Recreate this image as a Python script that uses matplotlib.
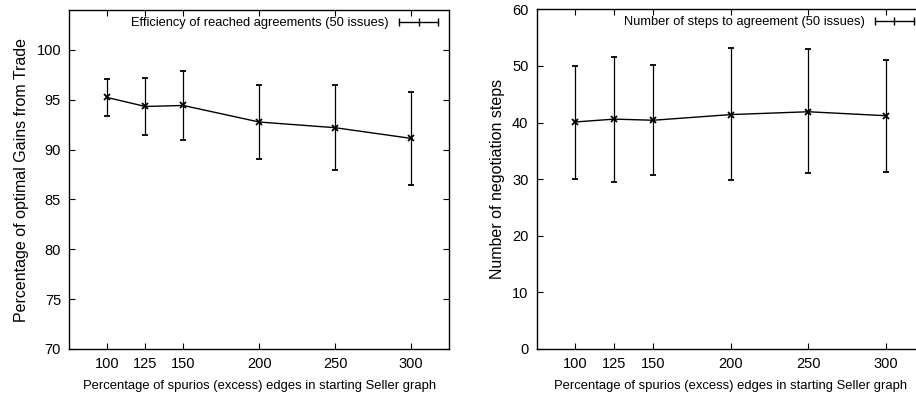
import numpy as np
import matplotlib
matplotlib.use('Agg')
import matplotlib.pyplot as plt
from matplotlib.lines import Line2D

plt.rcParams['font.family'] = ['Liberation Sans', 'DejaVu Sans']

# x positions (percentage of spurious edges)
x_vals = [100, 125, 150, 200, 250, 300]

# efficiency of reached agreements (mean, lower, upper)
eff_mean = [95.23, 94.33, 94.43, 92.77, 92.2, 91.13]
eff_low = [93.33, 91.43, 90.93, 89.03, 87.93, 86.43]
eff_high = [97.1, 97.2, 97.93, 96.47, 96.47, 95.8]

# number of steps to agreement (mean, lower, upper)
steps_mean = [40.1, 40.6, 40.4, 41.4, 41.9, 41.2]
steps_low = [30.0, 29.5, 30.7, 29.8, 31.0, 31.2]
steps_high = [50.06, 51.6, 50.2, 53.1, 52.9, 51.1]

xlabel = 'Percentage of spurios (excess) edges in starting Seller graph'


def panel(ax, mean, low, high, label, ylabel, ylim, yticks):
    mean = np.array(mean)
    yerr = np.vstack([mean - np.array(low), np.array(high) - mean])
    ax.errorbar(x_vals, mean, yerr=yerr, color='black', lw=1.0, elinewidth=0.9,
                capsize=2, capthick=0.9, marker='x', ms=4.5, mew=1.3)
    ax.set_xlim(75, 325)
    ax.set_ylim(*ylim)
    ax.set_xticks(x_vals)
    ax.set_yticks(yticks)
    ax.tick_params(direction='in', top=True, right=True, length=4,
                   labelsize=10.5, pad=6)
    ax.set_xlabel(xlabel, fontsize=9.4, labelpad=6)
    ax.set_ylabel(ylabel, fontsize=11.5, labelpad=5)
    for s in ax.spines.values():
        s.set_linewidth(1.0)
    # gnuplot-like key: horizontal line with end ticks
    handle = Line2D([], [], color='black', lw=1.0, marker='|', ms=6, mew=1.0)
    ax.legend([handle], [label], loc='upper right', frameon=False,
              markerfirst=False, fontsize=9.3, handlelength=3.6, numpoints=3,
              borderaxespad=0.15, handletextpad=0.5)


fig = plt.figure(figsize=(9.16, 4.03), dpi=100)
ax1 = fig.add_axes([0.0757, 0.134, 0.4145, 0.841])
ax2 = fig.add_axes([0.5859, 0.134, 0.4237, 0.843])

panel(ax1, eff_mean, eff_low, eff_high,
      'Efficiency of reached agreements (50 issues)',
      'Percentage of optimal Gains from Trade', (70, 104), range(70, 101, 5))
panel(ax2, steps_mean, steps_low, steps_high,
      'Number of steps to agreement (50 issues)',
      'Number of negotiation steps', (0, 60), range(0, 61, 10))

fig.savefig('out.png', dpi=100)
